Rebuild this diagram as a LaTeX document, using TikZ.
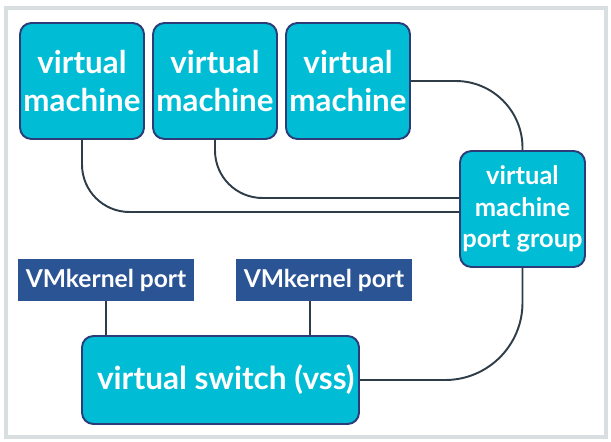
\documentclass[tikz,border=0pt]{standalone}
\usepackage{fontspec}
\setmainfont{Lato}
\usepackage{tikz}
\usetikzlibrary{positioning, calc}
\definecolor{boxcyan}{HTML}{00BCD4}
\definecolor{boxedge}{HTML}{2B3C78}
\definecolor{kernelblue}{HTML}{2B5494}
\definecolor{wire}{HTML}{2E3D48}
\definecolor{framegray}{HTML}{D9DEE1}

\begin{document}
\begin{tikzpicture}[x=0.02cm, y=-0.02cm,
    vmbox/.style={draw=boxedge, line width=1.1pt, fill=boxcyan, rounded corners=6.5pt,
        text=white, align=center, inner sep=0pt, font=\fontsize{17.8}{22}\selectfont\bfseries},
    kernelbox/.style={fill=kernelblue, text=white, inner sep=0pt,
        minimum width=176*0.02cm, minimum height=42*0.02cm, font=\fontsize{14}{16}\selectfont\bfseries},
    wireline/.style={draw=wire, line width=1.1pt}]
        % Frame
        \useasboundingbox (0, 0) rectangle (611, 442);
        \draw[framegray, line width=1.8pt] (6, 8) rectangle (606, 437);
        
        % Virtual machines
        \node[vmbox, minimum width=124*0.02cm, minimum height=116*0.02cm] (vm1) at (82, 81) {virtual\\machine};
        \node[vmbox, minimum width=124*0.02cm, minimum height=116*0.02cm] (vm2) at (215, 81) {virtual\\machine};
        \node[vmbox, minimum width=124*0.02cm, minimum height=116*0.02cm] (vm3) at (348, 81) {virtual\\machine};
        
        % Port group
        \node[vmbox, minimum width=125*0.02cm, minimum height=116*0.02cm,
            font=\fontsize{14.5}{18}\selectfont\bfseries] (pg) at (522.5, 209) {virtual\\machine\\port group};
        
        % VMkernel ports
        \node[kernelbox] (vk1) at (106, 280) {VMkernel port};
        \node[kernelbox] (vk2) at (324, 280) {VMkernel port};
        
        % Virtual switch
        \node[vmbox, minimum width=277*0.02cm, minimum height=88*0.02cm,
            font=\fontsize{18}{22}\selectfont\bfseries] (vss) at (220.5, 380) {\hspace*{6pt}virtual switch (vss)};
        
        % Wires to port group
        \draw[wireline, rounded corners=27pt] (vm1.south) -- (vm1.south |- 0, 212) -- (pg.west |- 0, 212);
        \draw[wireline, rounded corners=27pt] (vm2.south) -- (vm2.south |- 0, 198) -- (pg.west |- 0, 198);
        \draw[wireline, rounded corners=38pt] (vm3.east) -- (vm3.east -| pg.north) -- (pg.north);
        \draw[wireline, rounded corners=44pt] (pg.south) -- (pg.south |- vss.east) -- (vss.east);
        
        % Wires to switch
        \draw[wireline] (vk1.south) -- (vk1.south |- vss.north);
        \draw[wireline] (vk2.south -| 310, 0) -- (vss.north -| 310, 0);
    \end{tikzpicture}
\end{document}
